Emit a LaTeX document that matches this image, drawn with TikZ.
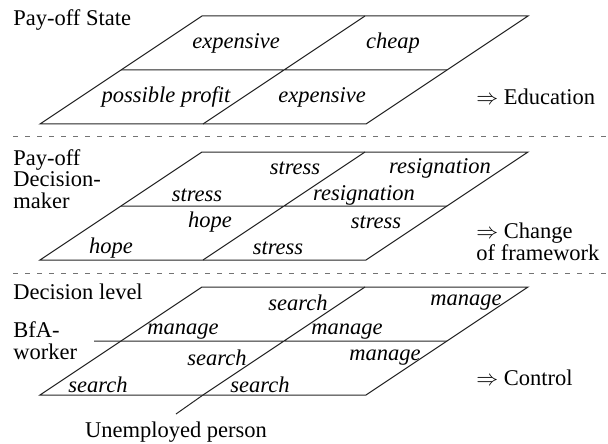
\documentclass[tikz,border=0pt]{standalone}
\usepackage{fontspec}
\setmainfont{LiberationSerif}[Extension=.ttf,UprightFont=*-Regular,ItalicFont=*-Italic,BoldFont=*-Bold]
\usetikzlibrary{positioning}

\begin{document}
\begin{tikzpicture}[x=0.5pt,y=-0.5pt,node distance = 3.5pt and 5pt,
    every node/.style={inner sep=0pt,font=\fontsize{11.25}{10.85}\selectfont},
    cell/.style={font=\fontsize{11.25}{10.85}\selectfont\itshape},
    level/.style={anchor=west,align=left},
    result/.style={anchor=west,align=left},
    plane/.style={line width=0.5pt,black!85},
    sep/.style={line width=0.5pt,black!55,dash pattern=on 2.5pt off 3.5pt},
   ]
    \useasboundingbox (0,0) rectangle (608,443);

    % the three planes
    \foreach \lv/\t in {1/16,2/152,3/287} {
      \coordinate (tl\lv) at (202,\t);  \coordinate (tr\lv) at (528,\t);
      \coordinate (br\lv) at (366,\t+108); \coordinate (bl\lv) at (40,\t+108);
      \coordinate (ml\lv) at (121,\t+54); \coordinate (mr\lv) at (447,\t+54);
      \coordinate (mt\lv) at (365,\t);  \coordinate (mb\lv) at (203,\t+108);
      \draw[plane] (tl\lv) -- (tr\lv) -- (br\lv) -- (bl\lv) -- cycle;
      \draw[plane] (ml\lv) -- (mr\lv) (mt\lv) -- (mb\lv);
    }
    \coordinate (mx) at (94,341);
    \coordinate (tail) at (176,414);
    \draw[plane] (mx) -- (ml3) (mb3) -- (tail);

    % separators
    \coordinate (s1a) at (13,137); \coordinate (s1b) at (608,137);
    \coordinate (s2a) at (13,273); \coordinate (s2b) at (608,273);
    \draw[sep] (s1a) -- (s1b);
    \draw[sep] (s2a) -- (s2b);

    % levels
    \node (state) [level] at (13,20) {Pay-off State};
    \node (maker) [level] at (13,179) {Pay-off\\Decision-\\maker};
    \node (dlev)  [level] at (13,292) {Decision level};
    \node (bfa)   [level] at (13,341) {BfA-\\worker};
    \node (person) [below=of tail] {Unemployed person};

    % results
    \node (educ) [result] at (476,97)  {$\Rightarrow$ Education};
    \node (chg)  [result] at (476,242) {$\Rightarrow$ Change\\of framework};
    \node (ctrl) [result] at (476,378) {$\Rightarrow$ Control};

    % plane 1
    \node (a11) [cell] at (236,43) {expensive};
    \node (a12) [cell] at (393,43) {cheap};
    \node (a21) [cell] at (166,97) {possible profit};
    \node (a22) [cell] at (322,97) {expensive};

    % plane 2
    \node (b11u) [cell] at (295,168) {stress};
    \node (b12u) [cell] at (440,168) {resignation};
    \node (b11l) [cell] at (197,195) {stress};
    \node (b12l) [cell] at (364,195) {resignation};
    \node (b21u) [cell] at (210,222) {hope};
    \node (b22u) [cell] at (376,222) {stress};
    \node (b21l) [cell] at (111,248) {hope};
    \node (b22l) [cell] at (278,248) {stress};

    % plane 3
    \node (c11u) [cell] at (298,303) {search};
    \node (c12u) [cell] at (466,303) {manage};
    \node (c11l) [cell] at (183,332) {manage};
    \node (c12l) [cell] at (347,332) {manage};
    \node (c21u) [cell] at (217,358) {search};
    \node (c22u) [cell] at (385,358) {manage};
    \node (c21l) [cell] at (98,385)  {search};
    \node (c22l) [cell] at (260,385) {search};
   \end{tikzpicture}
\end{document}
